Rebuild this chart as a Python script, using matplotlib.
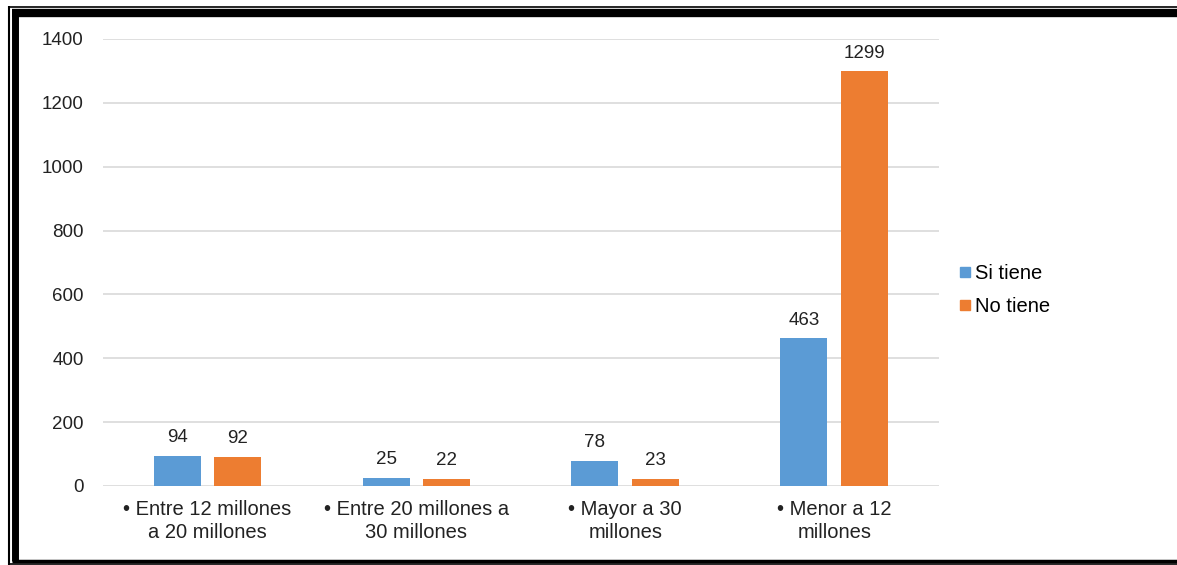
import numpy as np
import matplotlib.pyplot as plt
from matplotlib.lines import Line2D

plt.rcParams['font.family'] = ['Liberation Sans', 'DejaVu Sans']

categorias = ['• Entre 12 millones\na 20 millones', '• Entre 20 millones a\n30 millones',
              '• Mayor a 30\nmillones', '• Menor a 12\nmillones']
si_tiene = [94, 25, 78, 463]
no_tiene = [92, 22, 23, 1299]
azul = '#5B9BD5'
naranja = '#ED7D31'

fig = plt.figure(figsize=(11.77, 5.65), dpi=100)
ax = fig.add_axes([0.0875, 0.14, 0.71, 0.791])

x = np.arange(len(categorias))
w = 0.225
b1 = ax.bar(x - 0.145, si_tiene, w, color=azul, label='Si tiene', zorder=3)
b2 = ax.bar(x + 0.145, no_tiene, w, color=naranja, label='No tiene', zorder=3)

for barras in (b1, b2):
    for r in barras:
        ax.text(r.get_x() + r.get_width() / 2, r.get_height() + 30, str(int(r.get_height())),
                ha='center', va='bottom', fontsize=13.5, color='#222222')

ax.set_xlim(-0.5, 3.5)
ax.set_ylim(0, 1400)
ax.set_yticks(range(0, 1401, 200))
ax.grid(axis='y', color='#D9D9D9', linewidth=1.2, zorder=0)
for s in ax.spines.values():
    s.set_visible(False)
ax.tick_params(axis='both', length=0, labelsize=13.5, colors='#222222')
ax.tick_params(axis='y', pad=14)
ax.set_xticks(x)
ax.set_xticklabels(categorias, fontsize=14.5, linespacing=1.25)
ax.tick_params(axis='x', pad=10)

handles = [Line2D([], [], marker='s', linestyle='none', markersize=7.5, color=azul),
           Line2D([], [], marker='s', linestyle='none', markersize=7.5, color=naranja)]
fig.legend(handles, ['Si tiene', 'No tiene'], loc='center left', bbox_to_anchor=(0.796, 0.487),
           frameon=False, fontsize=14.5, handletextpad=0.0, handlelength=1.0, labelspacing=0.68)

# marco doble
def linea(x0, y0, x1, y1, lw):
    fig.add_artist(Line2D([x0 / 1177, x1 / 1177], [1 - y0 / 565, 1 - y1 / 565],
                          color='black', linewidth=lw, solid_capstyle='butt'))

linea(9, 6.5, 1177, 6.5, 1.2)
linea(12, 13, 1177, 13, 6)
linea(9, 6, 9, 565, 1.5)
linea(15, 10, 15, 561, 5)
linea(12, 560.5, 1177, 560.5, 2.5)
linea(9, 564, 1177, 564, 1.2)

fig.savefig('out.png', dpi=100)
